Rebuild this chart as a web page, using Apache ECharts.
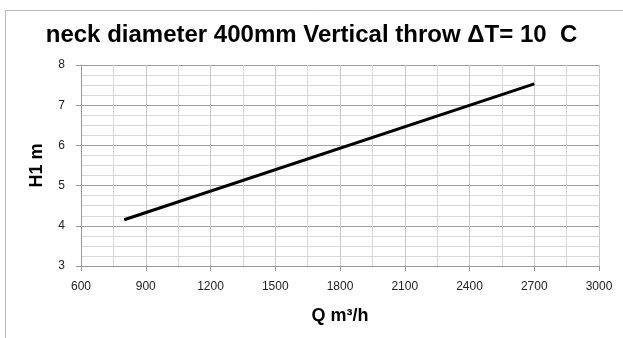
<!DOCTYPE html>
<html><head><meta charset="utf-8">
<script src="https://cdn.jsdelivr.net/npm/echarts@6/dist/echarts.min.js"></script>
<style>html,body{margin:0;padding:0;background:#fff}#c{width:623px;height:338px}</style>
</head><body><div id="c"></div>
<script>
const titleText = 'neck diameter 400mm Vertical throw ΔT= 10  C';
const xName = 'Q m³/h';
const yName = 'H1 m';
const qValues = [800, 2700];
const hValues = [4.15, 7.53];

const chart = echarts.init(document.getElementById('c'), null, {renderer: 'canvas'});
const F = '"Liberation Sans", Arial, sans-serif';
chart.setOption({
  animation: false,
  backgroundColor: '#fff',
  graphic: [{type: 'rect', shape: {x: 5.5, y: 10.5, width: 700, height: 400},
    style: {fill: 'none', stroke: '#bbb', lineWidth: 1}, silent: true}],
  title: {text: titleText, left: 'center', top: 18,
    textStyle: {fontFamily: F, fontWeight: 'bold', fontSize: 24, color: '#000'}},
  grid: {left: 81, right: 24, top: 65, bottom: 72},
  xAxis: {type: 'value', min: 600, max: 3000, interval: 300,
    name: xName, nameLocation: 'middle', nameGap: 41,
    nameTextStyle: {fontFamily: F, fontWeight: 'bold', fontSize: 18, color: '#000'},
    axisLine: {lineStyle: {color: '#999'}},
    axisTick: {show: true, length: 5, lineStyle: {color: '#999'}},
    axisLabel: {fontFamily: F, fontSize: 12, color: '#222', margin: 15,
      formatter: v => String(v)},
    splitLine: {show: true, lineStyle: {color: '#c8c8c8'}},
    minorTick: {show: false, splitNumber: 2},
    minorSplitLine: {show: true, lineStyle: {color: '#d8d8d8'}}},
  yAxis: {type: 'value', min: 3, max: 8, interval: 1,
    name: yName, nameLocation: 'middle', nameGap: 35, nameRotate: 90,
    nameTextStyle: {fontFamily: F, fontWeight: 'bold', fontSize: 18, color: '#000'},
    axisLine: {show: true, lineStyle: {color: '#999'}},
    axisTick: {show: true, length: 5, lineStyle: {color: '#999'}},
    axisLabel: {fontFamily: F, fontSize: 12, color: '#222', margin: 16,
      formatter: v => String(v)},
    splitLine: {show: true, lineStyle: {color: '#a0a0a0'}},
    minorTick: {show: false, splitNumber: 4},
    minorSplitLine: {show: true, lineStyle: {color: '#d8d8d8'}}},
  series: [{type: 'line', data: qValues.map((q, i) => [q, hValues[i]]),
    showSymbol: false, lineStyle: {color: '#000', width: 3}}]
});
</script></body></html>
